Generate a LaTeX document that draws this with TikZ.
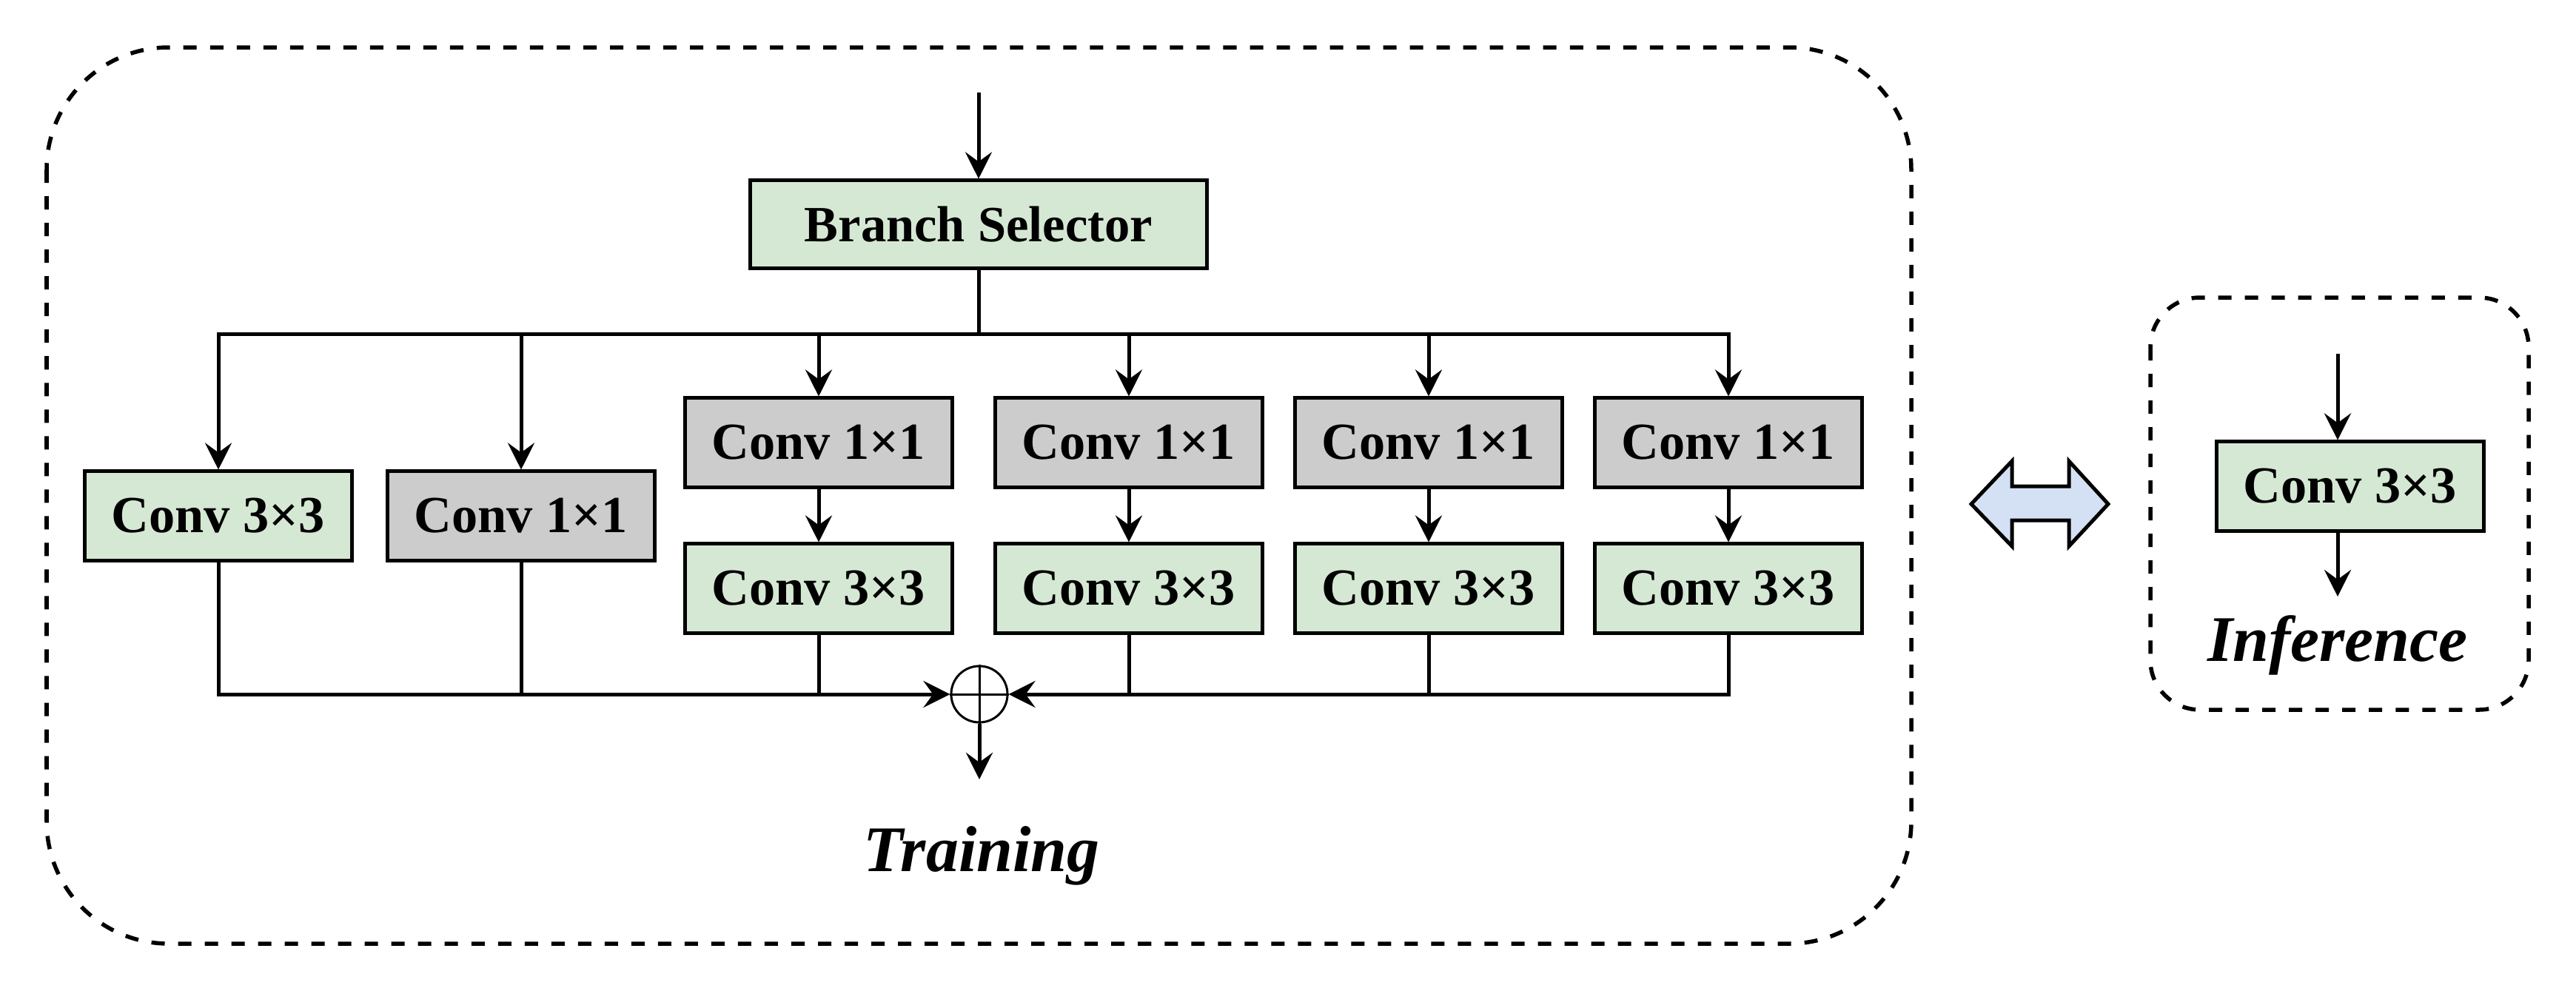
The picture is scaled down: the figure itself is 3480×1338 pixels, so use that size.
\documentclass[tikz,border=0pt]{standalone}
\usepackage{fontspec}
\setmainfont{Liberation Serif}
\usetikzlibrary{arrows.meta}
\definecolor{boxgreen}{HTML}{D5E8D4}
\definecolor{boxgray}{HTML}{CCCCCC}
\definecolor{arrowblue}{HTML}{D4E1F5}
\begin{document}
\begin{tikzpicture}[x=0.01cm,y=-0.01cm,
  convbox/.style={draw=black, line width=0.05cm, minimum width=3.6cm, minimum height=1.2cm, inner sep=0pt, font=\fontsize{20}{24}\selectfont\bfseries},
  greenbox/.style={convbox, fill=boxgreen},
  graybox/.style={convbox, fill=boxgray},
  link/.style={line width=0.05cm},
  arr/.style={link, -{Stealth[length=0.36cm,width=0.36cm,inset=0.13cm]}},
  frame/.style={line width=0.055cm, dash pattern=on 0.18cm off 0.18cm},
  caption/.style={anchor=base, font=\fontsize{25}{30}\selectfont\bfseries\itshape},
]
\useasboundingbox (0,0) rectangle (3480,1338);

% frames
\draw[frame, rounded corners=1.65cm] (63,64) rectangle (2582,1275);
\draw[frame, rounded corners=0.67cm] (2905,402) rectangle (3416,959);

% training
\node[greenbox, minimum width=6.17cm, minimum height=1.18cm, font=\fontsize{19.5}{23}\selectfont\bfseries] (bs) at (1322,303) {Branch Selector};
\coordinate (in) at (1322,125);
\coordinate (bus) at (1322,451);

\node[greenbox] (c1) at (295,697) {Conv 3×3};
\node[graybox] (c2) at (704,697) {Conv 1×1};
\node[graybox] (c3t) at (1106,598) {Conv 1×1};
\node[greenbox] (c3b) at (1106,795) {Conv 3×3};
\node[graybox] (c4t) at (1525,598) {Conv 1×1};
\node[greenbox] (c4b) at (1525,795) {Conv 3×3};
\node[graybox] (c5t) at (1930,598) {Conv 1×1};
\node[greenbox] (c5b) at (1930,795) {Conv 3×3};
\node[graybox] (c6t) at (2335,598) {Conv 1×1};
\node[greenbox] (c6b) at (2335,795) {Conv 3×3};

\node[circle, draw, line width=0.03cm, minimum size=0.76cm, inner sep=0pt] (sum) at (1323,938) {};
\draw[line width=0.03cm] (sum.north) -- (sum.south) (sum.west) -- (sum.east);
\coordinate (out) at (1323,1053);

\draw[arr] (in) -- (bs);
\draw[link] (bs.south) -- (bus);
\draw[arr] (bus) -| (c1.north);
\draw[arr] (bus) -| (c6t.north);
\foreach \n in {c2,c3t,c4t,c5t} \draw[arr] (c1.north |- bus) -- (\n.north |- bus) -- (\n.north);
\foreach \n in {3,4,5,6} \draw[arr] (c\n t.south) -- (c\n b.north);

\draw[arr] (c1.south) |- (sum.west);
\draw[arr] (c6b.south) |- (sum.east);
\foreach \n in {c2,c3b,c4b,c5b} \draw[link] (\n.south) -- (\n.south |- sum);
\draw[arr] (sum.south) -- (out);

\node[caption] (train) at (1326,1177) {Training};

% double arrow
\draw[line width=0.05cm, fill=arrowblue, line join=miter] (2663,681) -- (2718,623) -- (2718,657) -- (2795,657) -- (2795,623) -- (2848,681) -- (2795,738) -- (2795,703) -- (2718,703) -- (2718,738) -- cycle;

% inference
\node[greenbox] (ic) at (3175,657) {Conv 3×3};
\coordinate (iin) at (3158,478);
\coordinate (iout) at (3158,806);
\draw[arr] (iin) -- (iin |- ic.north);
\draw[arr] (iout |- ic.south) -- (iout);
\node[caption] (inf) at (3158,893) {Inference};
\end{tikzpicture}
\end{document}
